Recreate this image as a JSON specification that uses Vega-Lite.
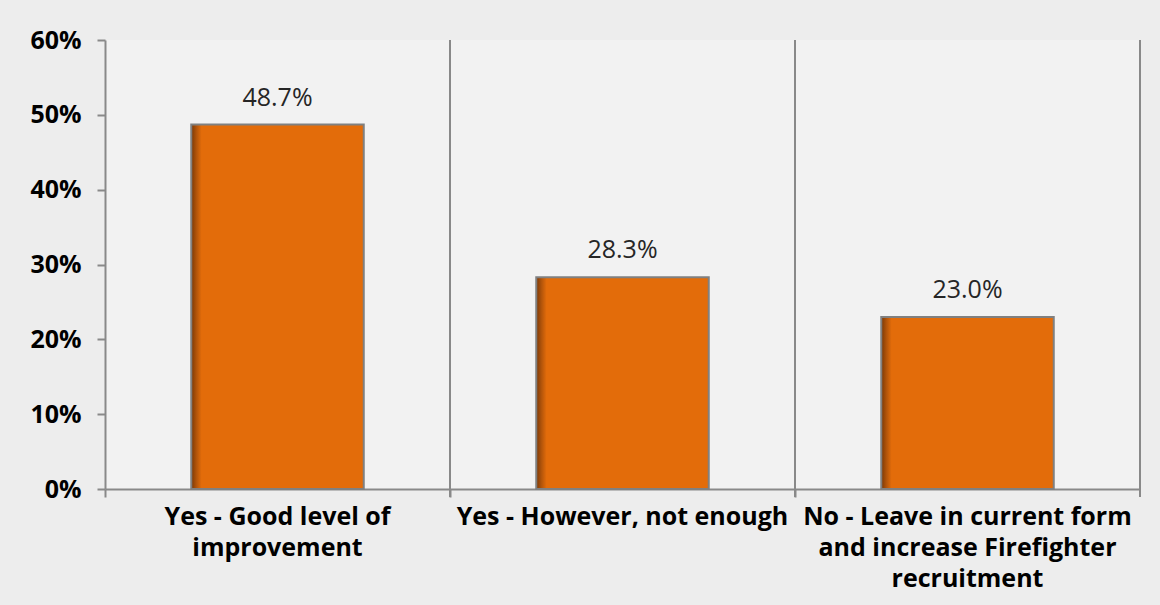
{
  "$schema": "https://vega.github.io/schema/vega-lite/v6.json",
  "autosize": {"type": "none"},
  "padding": {"left": 105, "top": 40, "right": 20, "bottom": 116},
  "width": 1035,
  "height": 449,
  "background": "#ededed",
  "config": {
    "view": {"stroke": null, "fill": "#f2f2f2"},
    "font": "Open Sans"
  },
  "data": {
    "values": [
      {"answer": "Yes - Good level of improvement", "share": 0.487},
      {"answer": "Yes - However, not enough", "share": 0.283},
      {"answer": "No - Leave in current form and increase Firefighter recruitment", "share": 0.23}
    ]
  },
  "encoding": {
    "x": {
      "field": "answer",
      "type": "nominal",
      "sort": null,
      "scale": {"paddingInner": 0.5, "paddingOuter": 0.25},
      "axis": {
        "title": null,
        "labelAngle": 0,
        "labelFont": "Open Sans",
        "labelFontWeight": "bold",
        "labelFontSize": 25,
        "labelColor": "#000000",
        "labelLimit": 400,
        "labelLineHeight": 31,
        "labelPadding": 7,
        "bandPosition": -0.5,
        "tickSize": 8,
        "tickColor": "#898989",
        "tickWidth": 2,
        "domainColor": "#898989",
        "domainWidth": 2,
        "grid": false,
        "labelExpr": "datum.value == 'Yes - Good level of improvement' ? ['Yes - Good level of', 'improvement'] : datum.value == 'No - Leave in current form and increase Firefighter recruitment' ? ['No - Leave in current form', 'and increase Firefighter', 'recruitment'] : datum.value"
      }
    }
  },
  "layer": [
    {
      "mark": {"type": "rule", "color": "#898989", "strokeWidth": 2},
      "encoding": {
        "x": {"field": "answer", "type": "nominal", "sort": null, "bandPosition": 1.5},
        "y": {"datum": -0.0107, "type": "quantitative"},
        "y2": {"datum": 0.6}
      }
    },
    {
      "mark": {
        "type": "bar",
        "color": {
          "gradient": "linear",
          "x1": 0, "y1": 0, "x2": 1, "y2": 0,
          "stops": [
            {"offset": 0, "color": "#7a3806"},
            {"offset": 0.03, "color": "#b2540a"},
            {"offset": 0.06, "color": "#E36C0A"},
            {"offset": 1, "color": "#E36C0A"}
          ]
        },
        "stroke": "#808080",
        "strokeWidth": 2
      },
      "encoding": {
        "y": {
          "field": "share",
          "type": "quantitative",
          "scale": {"domain": [0, 0.6], "nice": false},
          "axis": {
            "title": null,
            "values": [0, 0.1, 0.2, 0.3, 0.4, 0.5, 0.6],
            "format": ".0%",
            "labelFont": "Open Sans",
            "labelFontWeight": "bold",
            "labelFontSize": 25,
            "labelColor": "#000000",
            "labelPadding": 16,
            "tickSize": 8,
            "tickColor": "#898989",
            "tickWidth": 2,
            "domainColor": "#898989",
            "domainWidth": 2,
            "grid": false
          }
        }
      }
    },
    {
      "mark": {"type": "text", "baseline": "bottom", "dy": -14, "fontSize": 25, "color": "#262626", "font": "Open Sans"},
      "encoding": {
        "y": {"field": "share", "type": "quantitative"},
        "text": {"field": "share", "type": "quantitative", "format": ".1%"}
      }
    }
  ]
}
